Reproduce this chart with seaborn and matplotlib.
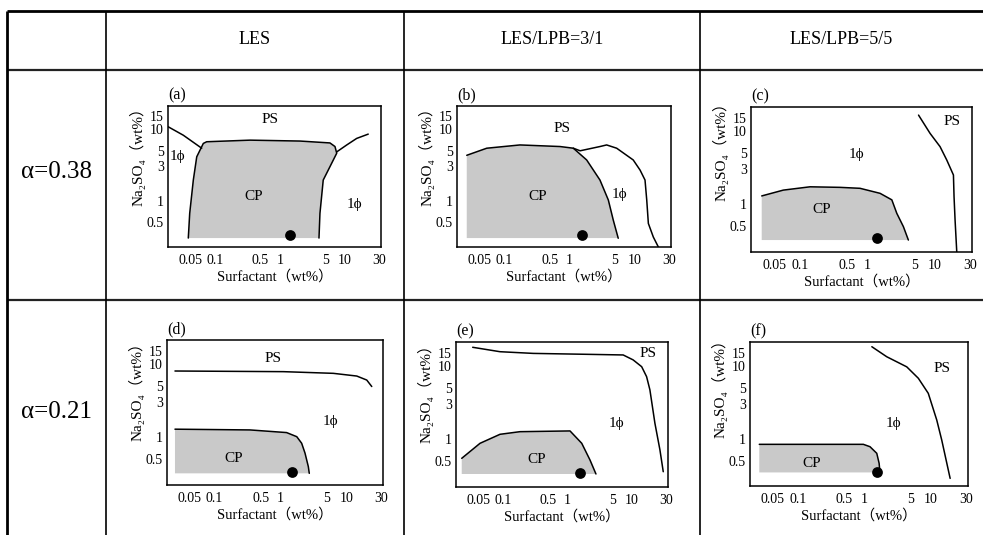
import matplotlib.pyplot as plt
import seaborn as sns
from matplotlib.ticker import FixedLocator, FixedFormatter, LogLocator, NullFormatter
from matplotlib.transforms import ScaledTranslation

# ---- data (wt%) ----
col_titles = ['LES', 'LES/LPB=3/1', 'LES/LPB=5/5']
row_titles = ['\u03b1=0.38', '\u03b1=0.21']
x_ticks = [0.05, 0.1, 0.5, 1, 5, 10, 30]
x_tick_labels = ['0.05', '0.1', '0.5', '1', '5', '10', '30']
y_ticks = [0.5, 1, 3, 5, 10, 15]
y_tick_labels = ['0.5', '1', '3', '5', '10', '15']

# (a) LES, alpha=0.38
a_cp_x = [0.039, 0.041, 0.0466, 0.0526, 0.0664, 0.0748, 0.348, 2.04, 5.9, 7.05, 7.5, 5.9, 4.65, 4.14, 4.0]
a_cp_y = [0.30, 0.665, 1.94, 4.1, 6.3, 6.65, 7.0, 6.8, 6.4, 5.7, 4.6, 2.98, 1.94, 0.665, 0.30]
a_left_x = [0.019, 0.0327, 0.0627]
a_left_y = [10.8, 8.2, 5.4]
a_right_x = [7.5, 10.7, 15.2, 22.9]
a_right_y = [4.8, 6.0, 7.4, 8.5]
a_floor = 0.30
a_dot = (1.43, 0.33)
a_text = [('PS', 0.70, 13.4), ('CP', 0.39, 1.13), ('1\u03d5', 0.027, 4.1), ('1\u03d5', 14.3, 0.87)]

# (b) LES/LPB=3/1, alpha=0.38
b_cp_x = [0.0268, 0.0542, 0.175, 0.72, 1.15, 1.84, 2.94, 3.95, 4.7, 5.6]
b_cp_y = [4.3, 5.4, 6.0, 5.7, 5.4, 3.7, 1.94, 1.02, 0.535, 0.298]
b_one_x = [1.15, 1.46, 2.94, 3.72, 5.3, 9.5, 12.1, 14.4, 15.3, 16.2, 19.3, 23.0]
b_one_y = [5.4, 4.97, 5.7, 6.0, 5.4, 3.7, 2.67, 1.94, 1.02, 0.48, 0.31, 0.226]
b_floor = 0.30
b_dot = (1.55, 0.33)
b_text = [('PS', 0.76, 10.2), ('CP', 0.33, 1.13), ('1\u03d5', 5.8, 1.2)]

# (c) LES/LPB=5/5, alpha=0.38
c_cp_x = [0.0274, 0.0573, 0.1426, 0.398, 0.787, 1.56, 2.33, 2.76, 3.46, 4.1]
c_cp_y = [1.30, 1.56, 1.73, 1.70, 1.65, 1.41, 1.15, 0.755, 0.497, 0.327]
c_ps_x = [5.8, 8.6, 12.1, 15.2, 19.1, 19.5, 20.2, 21.4]
c_ps_y = [16.3, 9.2, 6.07, 4.0, 2.5, 1.27, 0.61, 0.225]
c_floor = 0.327
c_dot = (1.39, 0.35)
c_text = [('PS', 18.0, 13.2), ('1\u03d5', 0.70, 4.7), ('CP', 0.213, 0.84)]

# (d) LES, alpha=0.21
d_ps_x = [0.0251, 1.11, 6.35, 14.4, 20.4, 24.3]
d_ps_y = [7.96, 7.8, 7.4, 6.8, 6.0, 4.9]
d_cp_x = [0.0251, 0.345, 1.24, 1.77, 2.1, 2.36, 2.65, 2.74]
d_cp_y = [1.29, 1.26, 1.16, 1.02, 0.83, 0.61, 0.40, 0.324]
d_floor = 0.324
d_dot = (1.48, 0.34)
d_text = [('PS', 0.78, 11.8), ('1\u03d5', 5.65, 1.63), ('CP', 0.193, 0.52)]

# (e) LES/LPB=3/1, alpha=0.21
e_ps_x = [0.0344, 0.091, 0.298, 1.88, 7.3, 10.4, 14.1, 16.8, 18.9, 22.6, 27.0, 30.4]
e_ps_y = [17.8, 15.5, 14.7, 14.3, 14.0, 12.0, 9.7, 7.1, 4.7, 1.65, 0.72, 0.363]
e_cp_x = [0.0233, 0.0447, 0.091, 0.185, 1.10, 1.67, 2.24, 2.77]
e_cp_y = [0.552, 0.883, 1.17, 1.27, 1.30, 0.883, 0.524, 0.338]
e_floor = 0.338
e_dot = (1.57, 0.35)
e_text = [('PS', 17.8, 14.7), ('1\u03d5', 5.8, 1.65), ('CP', 0.336, 0.524)]

# (f) LES/LPB=5/5, alpha=0.21
f_ps_x = [1.29, 2.16, 4.32, 6.45, 9.1, 12.2, 14.5, 17.3, 19.4]
f_ps_y = [18.1, 13.2, 9.6, 6.7, 4.17, 1.8, 0.957, 0.46, 0.286]
f_cp_x = [0.0262, 0.962, 1.21, 1.53, 1.66, 1.71]
f_cp_y = [0.836, 0.836, 0.776, 0.63, 0.46, 0.342]
f_floor = 0.345
f_dot = (1.53, 0.353)
f_text = [('PS', 14.5, 9.2), ('1\u03d5', 2.72, 1.62), ('CP', 0.161, 0.46)]

sns.set_style('white', {'axes.edgecolor': 'black', 'text.color': 'black',
                        'axes.labelcolor': 'black', 'xtick.color': 'black',
                        'ytick.color': 'black'})
plt.rcParams['font.family'] = ['Liberation Serif', 'DejaVu Serif', 'Noto Sans CJK SC']

W, H = 983, 535
fig = plt.figure(figsize=(W / 100, H / 100), dpi=100)

# table grid drawn in pixel space
bg = fig.add_axes([0, 0, 1, 1])
bg.set_xlim(0, W)
bg.set_ylim(H, 0)
bg.axis('off')
bg.hlines(11, 7, W, color='k', lw=2)
bg.hlines([70, 300], 7, W, color='#222222', lw=1.6)
bg.vlines(7, 11, H, color='k', lw=2)
bg.vlines([106, 404, 700], 11, H, color='k', lw=1.2)
for xc, t in zip([255, 552, 841], col_titles):
    bg.text(xc, 40, t, ha='center', va='center', fontsize=13)
for yc, t in zip([172, 412], row_titles):
    bg.text(56, yc, t, ha='center', va='center', fontsize=18)

panels = [
    ('(a)', (168, 381, 106, 247), a_cp_x, a_cp_y, a_floor,
     [(a_left_x, a_left_y), (a_right_x, a_right_y)], a_dot, a_text, 0.67),
    ('(b)', (457, 671, 106, 247), b_cp_x, b_cp_y, b_floor,
     [(b_one_x, b_one_y)], b_dot, b_text, 0.67),
    ('(c)', (751, 972, 107, 252), c_cp_x, c_cp_y, c_floor,
     [(c_ps_x, c_ps_y)], c_dot, c_text, 0.72),
    ('(d)', (167, 383, 340, 485), d_cp_x, d_cp_y, d_floor,
     [(d_ps_x, d_ps_y)], d_dot, d_text, 0.67),
    ('(e)', (456, 668, 342, 487), e_cp_x, e_cp_y, e_floor,
     [(e_ps_x, e_ps_y)], e_dot, e_text, 0.67),
    ('(f)', (750, 968, 342, 486), f_cp_x, f_cp_y, f_floor,
     [(f_ps_x, f_ps_y)], f_dot, f_text, 0.70),
]

for tag, (L, R, T, B), cpx, cpy, floor, lines, dot, texts, ylab_y in panels:
    ax = fig.add_axes([L / W, 1 - B / H, (R - L) / W, (B - T) / H])
    ax.set_xscale('log')
    ax.set_yscale('log')
    # coexisting-phase (CP) region
    ax.fill(cpx + [cpx[-1], cpx[0]], cpy + [floor, floor], color='#c9c9c9', lw=0, zorder=1)
    sns.lineplot(x=cpx, y=cpy, sort=False, estimator=None, color='k', lw=1.1, ax=ax, zorder=3)
    for lx, ly in lines:
        sns.lineplot(x=lx, y=ly, sort=False, estimator=None, color='k', lw=1.1, ax=ax, zorder=3)
    sns.scatterplot(x=[dot[0]], y=[dot[1]], s=60, color='k', linewidth=0, ax=ax, zorder=5)
    for t, tx, ty in texts:
        ax.text(tx, ty, t, ha='center', va='center', fontsize=11)

    ax.set_xlim(0.019, 36)
    ax.set_ylim(0.225, 21)
    ax.xaxis.set_major_locator(FixedLocator(x_ticks))
    ax.xaxis.set_major_formatter(FixedFormatter(x_tick_labels))
    ax.xaxis.set_minor_locator(LogLocator(subs=range(2, 10)))
    ax.xaxis.set_minor_formatter(NullFormatter())
    ax.yaxis.set_major_locator(FixedLocator(y_ticks))
    ax.yaxis.set_major_formatter(FixedFormatter(y_tick_labels))
    ax.yaxis.set_minor_locator(LogLocator(subs=range(2, 10)))
    ax.yaxis.set_minor_formatter(NullFormatter())
    ax.tick_params(which='both', direction='in', top=False, right=False,
                   width=0.8, labelsize=10)
    ax.tick_params(which='major', length=3.5)
    ax.tick_params(which='minor', length=2)
    ax.tick_params(axis='x', pad=5)
    ax.tick_params(axis='y', pad=3)
    for sp in ax.spines.values():
        sp.set_linewidth(1.1)
        sp.set_color('k')

    # the scan places "0.05" a little left of its tick and "30" a little right
    major = ax.xaxis.get_major_ticks()
    for tk, dx in ((major[0], -5), (major[-1], 3)):
        tk.label1.set_transform(tk.label1.get_transform()
                                + ScaledTranslation(dx / 100, 0, fig.dpi_scale_trans))

    ax.set_xlabel('Surfactant\uff08wt%\uff09', fontsize=10.5, labelpad=2)
    ax.set_ylabel('Na\u2082SO\u2084\uff08wt%\uff09', fontsize=11)
    ax.yaxis.set_label_coords(-22 / (R - L), ylab_y)
    ax.text(0.0, 1.02, tag, transform=ax.transAxes, ha='left', va='bottom', fontsize=11.5)

fig.savefig('out.png', dpi=100)
